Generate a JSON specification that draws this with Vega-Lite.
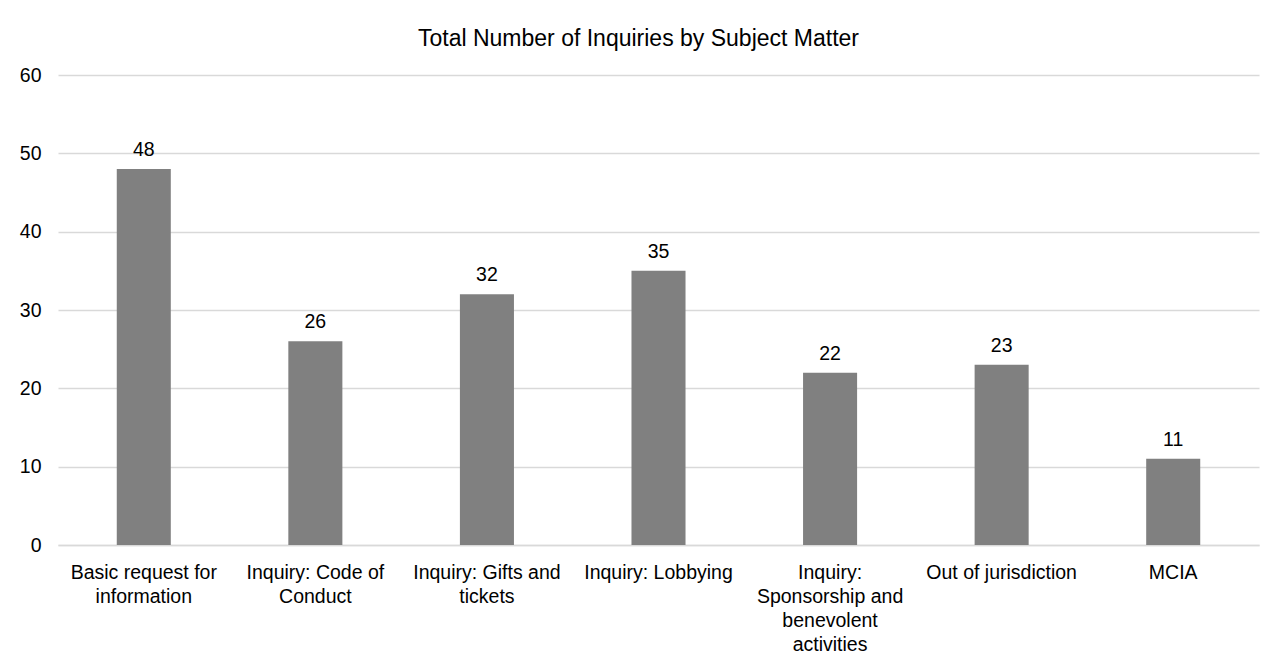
{
  "$schema": "https://vega.github.io/schema/vega-lite/v6.json",
  "autosize": "none",
  "width": 1201,
  "height": 470,
  "padding": {"left": 58, "top": 75, "right": 17, "bottom": 120},
  "background": "white",
  "title": {
    "text": "Total Number of Inquiries by Subject Matter",
    "font": "Liberation Sans",
    "fontSize": 23,
    "fontWeight": "normal",
    "color": "#000000",
    "anchor": "middle",
    "offset": 14,
    "dx": -20
  },
  "config": {
    "view": {"stroke": null},
    "font": "Liberation Sans"
  },
  "data": {
    "values": [
      {"subject": "Basic request for information", "count": 48},
      {"subject": "Inquiry: Code of Conduct", "count": 26},
      {"subject": "Inquiry: Gifts and tickets", "count": 32},
      {"subject": "Inquiry: Lobbying", "count": 35},
      {"subject": "Inquiry: Sponsorship and benevolent activities", "count": 22},
      {"subject": "Out of jurisdiction", "count": 23},
      {"subject": "MCIA", "count": 11}
    ]
  },
  "encoding": {
    "x": {
      "field": "subject",
      "type": "nominal",
      "sort": null,
      "scale": {"paddingInner": 0.685, "paddingOuter": 0.3425},
      "axis": {
        "title": null,
        "labelAngle": 0,
        "labelFont": "Liberation Sans",
        "labelFontSize": 19.5,
        "labelColor": "#000000",
        "labelPadding": 18,
        "labelLineHeight": 24,
        "labelBaseline": "top",
        "labelLimit": 300,
        "ticks": false,
        "domain": true,
        "domainColor": "#d9d9d9",
        "domainWidth": 1.5,
        "labelExpr": "datum.value == 'Basic request for information' ? ['Basic request for', 'information'] : datum.value == 'Inquiry: Code of Conduct' ? ['Inquiry: Code of', 'Conduct'] : datum.value == 'Inquiry: Gifts and tickets' ? ['Inquiry: Gifts and', 'tickets'] : datum.value == 'Inquiry: Sponsorship and benevolent activities' ? ['Inquiry:', 'Sponsorship and', 'benevolent', 'activities'] : datum.value"
      }
    },
    "y": {
      "field": "count",
      "type": "quantitative",
      "scale": {"domain": [0, 60]},
      "axis": {
        "title": null,
        "values": [0, 10, 20, 30, 40, 50, 60],
        "labelFont": "Liberation Sans",
        "labelFontSize": 19.5,
        "labelColor": "#000000",
        "labelPadding": 17,
        "ticks": false,
        "domain": false,
        "grid": true,
        "gridColor": "#d9d9d9",
        "gridWidth": 1.5
      }
    }
  },
  "layer": [
    {"mark": {"type": "bar", "color": "#808080"}},
    {
      "mark": {"type": "text", "baseline": "alphabetic", "dy": -13, "fontSize": 19.5, "font": "Liberation Sans", "color": "#000000"},
      "encoding": {"text": {"field": "count", "type": "quantitative"}}
    }
  ]
}
